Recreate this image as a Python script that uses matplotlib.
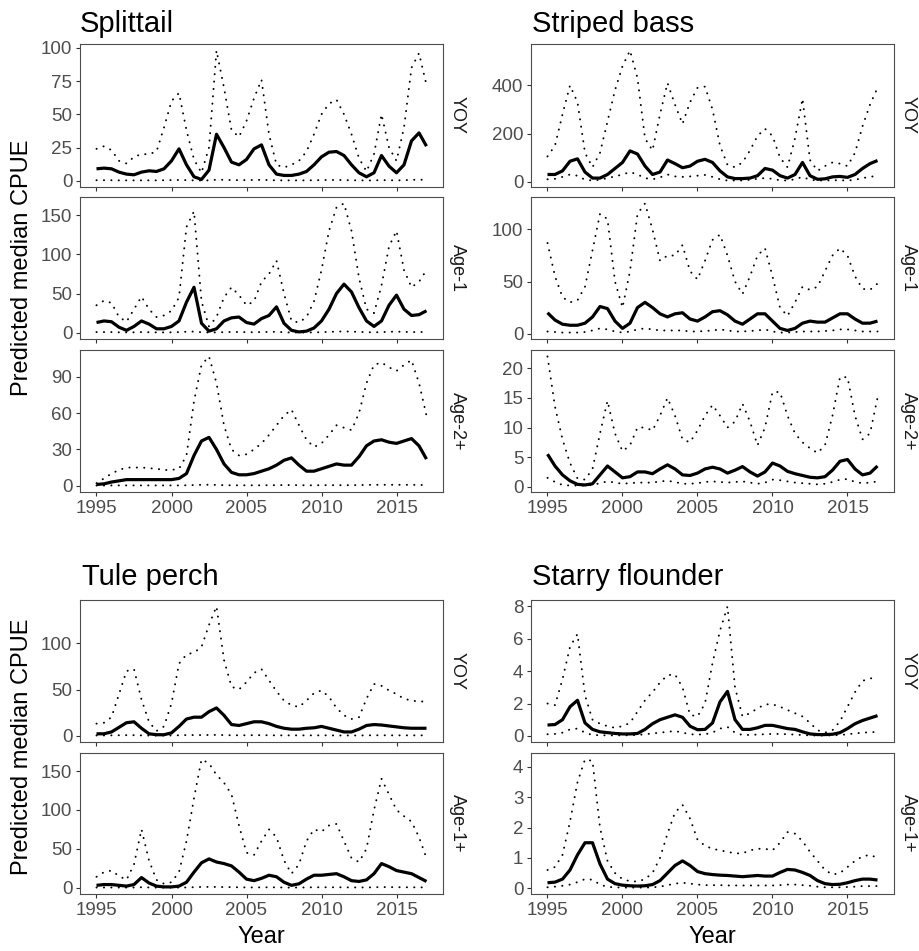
import numpy as np
import matplotlib
matplotlib.use("Agg")
import matplotlib.pyplot as plt

plt.rcParams["font.family"] = ["Liberation Sans", "DejaVu Sans"]

# half-year steps, 1995 - 2017
years = np.arange(1995, 2017.01, 0.5)

# ---- Splittail ----
splittail_yoy_med = [9, 9.5, 9, 6.5, 5, 4.5, 6.5, 7.5, 7, 9,
                     15, 24, 12, 3, 1, 8, 35, 25, 14, 12,
                     16, 24, 27, 12, 5, 4, 4, 5, 7, 12,
                     18, 21.5, 22, 19, 12, 6, 3, 6, 19, 11,
                     6, 12, 30, 36, 26]
splittail_yoy_hi = [24, 26, 23, 15, 13, 18, 20, 20, 22, 40,
                    60, 66, 38, 16, 6, 25, 98, 70, 38, 33,
                    45, 62, 76, 35, 12, 10, 12, 15, 22, 35,
                    50, 58, 61, 50, 35, 17, 7, 20, 50, 25,
                    15, 40, 85, 96, 72]
splittail_yoy_lo = [0.4, 0.4, 0.4, 0.3, 0.3, 0.3, 0.3, 0.3, 0.3, 0.4,
                    0.5, 0.6, 0.5, 0.3, 0.2, 0.3, 0.8, 0.7, 0.5, 0.5,
                    0.5, 0.6, 0.7, 0.5, 0.3, 0.3, 0.3, 0.3, 0.3, 0.4,
                    0.5, 0.6, 0.6, 0.5, 0.4, 0.3, 0.2, 0.3, 0.5, 0.4,
                    0.3, 0.4, 0.7, 0.8, 0.7]

splittail_age1_med = [13, 15, 14, 7, 3, 8, 15, 11, 5, 5,
                      8, 15, 39, 58, 12, 2, 5, 15, 19, 20,
                      13, 11, 18, 22, 33, 12, 3, 1, 2, 6,
                      15, 30, 50, 62, 52, 32, 15, 8, 15, 35,
                      48, 30, 22, 23, 28]
splittail_age1_hi = [35, 41, 38, 20, 14, 30, 46, 30, 20, 22,
                     28, 45, 135, 155, 40, 8, 20, 45, 58, 48,
                     35, 40, 65, 75, 92, 50, 15, 13, 20, 40,
                     80, 130, 160, 165, 130, 70, 30, 25, 60, 110,
                     130, 80, 58, 65, 80]
splittail_age1_lo = [0.8, 0.8, 0.8, 0.5, 0.4, 0.5, 0.8, 0.6, 0.4, 0.4,
                     0.5, 0.8, 1.2, 1.5, 0.6, 0.3, 0.4, 0.7, 0.9, 0.9,
                     0.7, 0.6, 0.9, 1.0, 1.2, 0.6, 0.3, 0.2, 0.3, 0.4,
                     0.7, 1.0, 1.4, 1.6, 1.4, 1.0, 0.6, 0.5, 0.7, 1.2,
                     1.4, 1.0, 0.8, 0.8, 0.9]

splittail_age2_med = [1, 1.5, 3, 4, 5, 5, 5, 5, 5, 5,
                      5, 6, 10, 25, 37, 40, 30, 18, 11, 9,
                      9, 10, 12, 14, 17, 21, 23, 17, 12, 12,
                      14, 16, 18, 17, 17, 24, 33, 37, 38, 36,
                      35, 37, 39, 33, 22]
splittail_age2_hi = [2, 6, 10, 13, 15, 15, 15, 14.5, 14, 13,
                     13, 14, 25, 70, 100, 107, 85, 50, 30, 25,
                     26, 30, 35, 42, 50, 58, 63, 50, 38, 32,
                     35, 42, 50, 48, 46, 60, 85, 100, 102, 98,
                     95, 100, 104, 85, 58]
splittail_age2_lo = [0.1, 0.1, 0.2, 0.2, 0.2, 0.2, 0.2, 0.2, 0.2, 0.2,
                     0.2, 0.2, 0.3, 0.5, 0.7, 0.8, 0.6, 0.4, 0.3, 0.3,
                     0.3, 0.3, 0.3, 0.4, 0.4, 0.5, 0.5, 0.4, 0.3, 0.3,
                     0.4, 0.4, 0.4, 0.4, 0.4, 0.5, 0.6, 0.7, 0.7, 0.7,
                     0.7, 0.7, 0.7, 0.6, 0.5]

# ---- Striped bass ----
bass_yoy_med = [30, 30, 45, 85, 95, 40, 15, 15, 30, 55,
                80, 128, 115, 65, 30, 40, 90, 75, 58, 65,
                85, 93, 80, 45, 20, 13, 13, 15, 25, 55,
                48, 25, 15, 30, 80, 25, 10, 12, 20, 22,
                18, 30, 55, 75, 88]
bass_yoy_hi = [105, 150, 280, 400, 330, 120, 60, 120, 250, 380,
               480, 545, 430, 180, 130, 280, 410, 320, 240, 330,
               390, 395, 300, 150, 70, 60, 80, 130, 190, 220,
               190, 100, 60, 180, 345, 90, 45, 65, 80, 75,
               65, 120, 230, 320, 390]
bass_yoy_lo = [10, 12, 20, 30, 25, 8, 5, 8, 15, 22,
               30, 40, 30, 15, 10, 18, 30, 22, 20, 22,
               25, 28, 20, 10, 5, 5, 5, 8, 12, 15,
               12, 6, 5, 10, 20, 8, 5, 5, 6, 6,
               5, 8, 15, 20, 25]

bass_age1_med = [20, 13, 9, 8, 8, 10, 16, 26, 24, 12,
                 5, 10, 25, 30, 25, 19, 16, 19, 20, 14,
                 12, 16, 21, 22, 18, 12, 9, 14, 19, 19,
                 12, 5, 3, 5, 10, 12, 11, 11, 15, 19,
                 19, 14, 10, 10, 12]
bass_age1_hi = [87, 55, 35, 30, 32, 45, 80, 115, 110, 50,
                25, 60, 115, 125, 100, 70, 75, 75, 85, 60,
                52, 70, 90, 95, 75, 50, 38, 55, 75, 82,
                55, 25, 17, 30, 45, 42, 45, 60, 75, 82,
                75, 55, 43, 42, 48]
bass_age1_lo = [2, 1.5, 1, 1, 1, 1.5, 3, 5, 4, 2,
                1, 2, 4, 5, 4, 3, 3, 3, 3, 2,
                2, 2.5, 3, 4, 3, 2, 2, 2.5, 3, 4,
                2, 1, 1, 1.5, 2, 2, 2, 2.5, 3, 4,
                4, 3, 2, 2, 2]

bass_age2_med = [5.5, 3.5, 2, 1, 0.4, 0.3, 0.5, 2, 3.5, 2.5,
                 1.5, 1.7, 2.5, 2.5, 2.2, 3, 3.7, 3, 2, 1.9,
                 2.3, 3, 3.3, 3, 2.3, 2.8, 3.4, 2.5, 1.8, 2.5,
                 4, 3.5, 2.6, 2.2, 1.9, 1.6, 1.5, 1.7, 2.8, 4.3,
                 4.6, 3, 2, 2.3, 3.5]
bass_age2_hi = [22, 13.5, 8, 4, 1.4, 1.2, 3, 9, 14.5, 9,
                6, 7, 10, 10, 9.5, 12, 15, 12, 8, 7.5,
                9.5, 12, 13.8, 12, 10, 11, 14, 11, 7, 10,
                16, 16, 12, 9, 7.5, 6.5, 5.7, 7, 12, 18.5,
                18.5, 12, 8, 9, 15]
bass_age2_lo = [1.5, 0.8, 0.3, 0.2, 0.2, 0.2, 0.3, 0.6, 0.9, 0.7,
                0.5, 0.6, 0.7, 0.7, 0.7, 0.9, 1.0, 0.8, 0.5, 0.5,
                0.6, 0.8, 0.9, 0.8, 0.7, 0.8, 0.9, 0.7, 0.5, 0.7,
                1.2, 1.1, 0.9, 0.7, 0.6, 0.5, 0.4, 0.5, 0.8, 1.2,
                1.3, 0.8, 0.6, 0.7, 0.9]

# ---- Tule perch ----
perch_yoy_med = [2, 2, 4, 9, 14, 15, 8, 2, 1, 1,
                 3, 10, 18, 20, 20, 26, 30, 22, 12, 11,
                 13, 15, 15, 13, 10, 8, 7, 7, 8, 8.5,
                 10, 8, 6, 4, 4, 7, 11, 12, 11.5, 10.5,
                 9.5, 8.5, 8, 8, 8]
perch_yoy_hi = [13, 14, 20, 45, 70, 72, 39, 15, 5, 10,
                35, 78, 88, 90, 96, 120, 140, 82, 53, 50,
                58, 68, 72, 60, 48, 38, 33, 31, 38, 46,
                49, 42, 30, 22, 18, 20, 40, 56, 54, 49,
                45, 40, 38, 37, 37]
perch_yoy_lo = [0.2, 0.2, 0.3, 0.4, 0.5, 0.5, 0.3, 0.1, 0.1, 0.1,
                0.2, 0.4, 0.6, 0.6, 0.6, 0.7, 0.8, 0.6, 0.4, 0.4,
                0.4, 0.5, 0.5, 0.4, 0.3, 0.3, 0.3, 0.3, 0.3, 0.3,
                0.3, 0.3, 0.2, 0.2, 0.2, 0.2, 0.3, 0.4, 0.4, 0.3,
                0.3, 0.3, 0.3, 0.3, 0.3]

perch_age1_med = [3, 4, 4, 3, 2, 4, 13, 6, 2, 1,
                  1, 2, 7, 20, 32, 37, 33, 31, 28, 20,
                  11, 9, 12, 16, 14, 7, 3, 5, 11, 16,
                  16, 17, 18, 14, 9, 8, 10, 18, 31, 27,
                  22, 20, 18, 13, 8]
perch_age1_hi = [14, 20, 22, 15, 10, 30, 75, 35, 10, 5,
                 7, 20, 60, 115, 165, 160, 145, 135, 120, 80,
                 45, 42, 60, 75, 65, 35, 18, 30, 60, 75,
                 72, 80, 82, 60, 38, 33, 50, 100, 140, 120,
                 100, 92, 85, 65, 38]
perch_age1_lo = [0.2, 0.2, 0.2, 0.2, 0.1, 0.2, 0.5, 0.3, 0.1, 0.1,
                 0.1, 0.1, 0.3, 0.6, 0.9, 1.0, 0.9, 0.8, 0.7, 0.5,
                 0.3, 0.3, 0.4, 0.5, 0.4, 0.2, 0.1, 0.2, 0.3, 0.5,
                 0.5, 0.5, 0.5, 0.4, 0.3, 0.3, 0.3, 0.5, 0.8, 0.7,
                 0.6, 0.5, 0.5, 0.4, 0.3]

# ---- Starry flounder ----
flounder_yoy_med = [0.67, 0.7, 1.0, 1.8, 2.2, 0.8, 0.4, 0.25, 0.2, 0.15,
                    0.12, 0.12, 0.15, 0.4, 0.75, 1.0, 1.15, 1.3, 1.15, 0.6,
                    0.38, 0.4, 0.8, 2.1, 2.75, 1.0, 0.4, 0.4, 0.5, 0.65,
                    0.65, 0.55, 0.45, 0.4, 0.25, 0.12, 0.08, 0.08, 0.1, 0.2,
                    0.45, 0.75, 0.95, 1.1, 1.25]
flounder_yoy_hi = [2.0, 1.9, 3.5, 5.5, 6.3, 2.5, 1.0, 0.75, 0.6, 0.5,
                   0.6, 0.8, 1.5, 2.2, 2.7, 3.3, 3.75, 3.8, 3.0, 1.3,
                   1.2, 2.0, 4.5, 6.5, 8.0, 3.0, 1.2, 1.4, 1.7, 1.95,
                   1.95, 1.8, 1.6, 1.4, 1.2, 0.8, 0.35, 0.2, 0.35, 0.9,
                   1.8, 2.7, 3.4, 3.55, 3.6]
flounder_yoy_lo = [0.1, 0.12, 0.2, 0.4, 0.45, 0.2, 0.05, 0.04, 0.03, 0.03,
                   0.03, 0.04, 0.05, 0.1, 0.15, 0.2, 0.25, 0.3, 0.2, 0.1,
                   0.08, 0.1, 0.2, 0.45, 0.55, 0.2, 0.05, 0.06, 0.08, 0.1,
                   0.12, 0.12, 0.1, 0.08, 0.05, 0.03, 0.02, 0.02, 0.03, 0.05,
                   0.1, 0.15, 0.2, 0.22, 0.25]

flounder_age1_med = [0.18, 0.2, 0.3, 0.6, 1.1, 1.5, 1.5, 0.8, 0.3, 0.15,
                     0.1, 0.08, 0.07, 0.08, 0.12, 0.25, 0.5, 0.75, 0.9, 0.75,
                     0.55, 0.48, 0.45, 0.43, 0.42, 0.4, 0.38, 0.4, 0.42, 0.4,
                     0.4, 0.52, 0.62, 0.6, 0.52, 0.42, 0.25, 0.15, 0.12, 0.13,
                     0.18, 0.25, 0.3, 0.3, 0.27]
flounder_age1_hi = [0.6, 0.7, 1.1, 2.2, 3.5, 4.25, 4.2, 2.0, 0.9, 0.5,
                    0.3, 0.23, 0.22, 0.3, 0.5, 1.0, 1.8, 2.5, 2.75, 2.3,
                    1.6, 1.4, 1.3, 1.25, 1.2, 1.15, 1.15, 1.25, 1.3, 1.3,
                    1.25, 1.5, 1.85, 1.8, 1.55, 1.2, 0.9, 0.6, 0.45, 0.5,
                    0.7, 0.9, 1.05, 1.1, 1.0]
flounder_age1_lo = [0.03, 0.05, 0.08, 0.12, 0.2, 0.3, 0.28, 0.12, 0.04, 0.03,
                    0.02, 0.02, 0.02, 0.02, 0.03, 0.05, 0.1, 0.15, 0.18, 0.15,
                    0.12, 0.1, 0.1, 0.1, 0.09, 0.09, 0.09, 0.09, 0.09, 0.09,
                    0.09, 0.1, 0.12, 0.12, 0.1, 0.08, 0.05, 0.03, 0.03, 0.03,
                    0.04, 0.05, 0.07, 0.07, 0.07]

x_ticks = [1995, 2000, 2005, 2010, 2015]

W, H = 920, 951
fig = plt.figure(figsize=(W / 100, H / 100), dpi=100)


def add_ax(x0, y0, x1, y1):
    # pixel box -> figure fraction
    return fig.add_axes([x0 / W, 1 - y1 / H, (x1 - x0) / W, (y1 - y0) / H])


def panel(box, med, hi, lo, yticks, strip, show_x):
    ax = add_ax(*box)
    for band in (hi, lo):
        ax.plot(years, band, color="black", lw=1.4, linestyle=(0, (0.1, 3.7)),
                dash_capstyle="round")
    ax.plot(years, med, color="black", lw=2.3, solid_joinstyle="round",
            solid_capstyle="butt")
    ax.margins(x=0.05, y=0.05)
    ax.set_yticks(yticks)
    ax.set_xticks(x_ticks)
    ax.tick_params(length=3, width=0.8, color="#333333", labelsize=13.5,
                   labelcolor="#4D4D4D", pad=2.5)
    if not show_x:
        ax.tick_params(axis="x", labelbottom=False)
    for s in ax.spines.values():
        s.set_color("#4D4D4D")
        s.set_linewidth(0.8)
    # facet strip on the right, reading top to bottom
    ax.text(1.04, 0.5, strip, transform=ax.transAxes, rotation=-90,
            ha="center", va="center", fontsize=13, color="#1A1A1A")
    return ax


top_rows = [(44, 187), (197, 339), (350, 492)]
bot_rows = [(600, 742), (753, 894)]
left_cols = (80, 443)
right_cols = (531, 894)

# Splittail
sp = [(splittail_yoy_med, splittail_yoy_hi, splittail_yoy_lo, [0, 25, 50, 75, 100], "YOY"),
      (splittail_age1_med, splittail_age1_hi, splittail_age1_lo, [0, 50, 100, 150], "Age-1"),
      (splittail_age2_med, splittail_age2_hi, splittail_age2_lo, [0, 30, 60, 90], "Age-2+")]
for i, (m, h, l, t, s) in enumerate(sp):
    y0, y1 = top_rows[i]
    panel((left_cols[0], y0, left_cols[1], y1), m, h, l, t, s, i == 2)

# Striped bass
sb = [(bass_yoy_med, bass_yoy_hi, bass_yoy_lo, [0, 200, 400], "YOY"),
      (bass_age1_med, bass_age1_hi, bass_age1_lo, [0, 50, 100], "Age-1"),
      (bass_age2_med, bass_age2_hi, bass_age2_lo, [0, 5, 10, 15, 20], "Age-2+")]
for i, (m, h, l, t, s) in enumerate(sb):
    y0, y1 = top_rows[i]
    panel((right_cols[0], y0, right_cols[1], y1), m, h, l, t, s, i == 2)

# Tule perch
tp = [(perch_yoy_med, perch_yoy_hi, perch_yoy_lo, [0, 50, 100], "YOY"),
      (perch_age1_med, perch_age1_hi, perch_age1_lo, [0, 50, 100, 150], "Age-1+")]
for i, (m, h, l, t, s) in enumerate(tp):
    y0, y1 = bot_rows[i]
    panel((left_cols[0], y0, left_cols[1], y1), m, h, l, t, s, i == 1)

# Starry flounder
sf = [(flounder_yoy_med, flounder_yoy_hi, flounder_yoy_lo, [0, 2, 4, 6, 8], "YOY"),
      (flounder_age1_med, flounder_age1_hi, flounder_age1_lo, [0, 1, 2, 3, 4], "Age-1+")]
for i, (m, h, l, t, s) in enumerate(sf):
    y0, y1 = bot_rows[i]
    panel((right_cols[0], y0, right_cols[1], y1), m, h, l, t, s, i == 1)

# titles
for txt, x, y in [("Splittail", 80, 32), ("Striped bass", 532, 32),
                  ("Tule perch", 82, 585), ("Starry flounder", 532, 585)]:
    fig.text(x / W, 1 - y / H, txt, fontsize=21, ha="left", va="baseline",
             color="black")

# axis titles
for yc in [268, 747]:
    fig.text(22 / W, 1 - yc / H, "Predicted median CPUE", rotation=90,
             fontsize=17, ha="center", va="center")
for xc in [261.5, 712.5]:
    fig.text(xc / W, 1 - 937 / H, "Year", fontsize=17, ha="center",
             va="center")

fig.savefig("out.png", dpi=100, facecolor="white")
